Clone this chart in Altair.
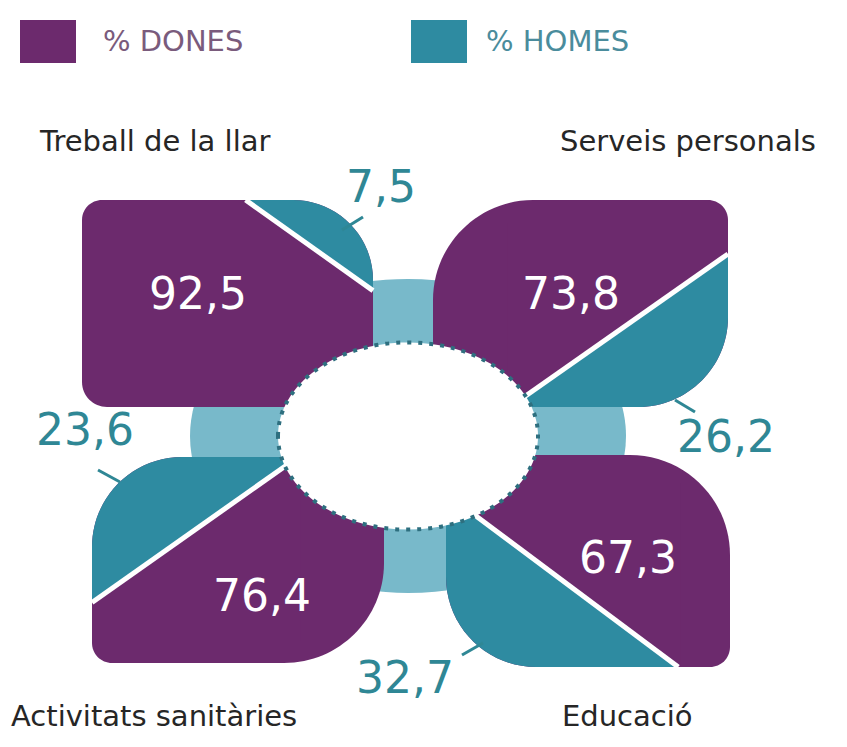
import math
import altair as alt
import pandas as pd

# ---------------- data ----------------
sectors = ["Treball de la llar", "Serveis personals", "Educació", "Activitats sanitàries"]
dones = [92.5, 73.8, 67.3, 76.4]
homes = [7.5, 26.2, 32.7, 23.6]
groups = ["% DONES", "% HOMES"]

# ---------------- style / layout ----------------
PURPLE = "#6c2a6d"
TEAL = "#2e8ba1"
LIGHT = "#78b9ca"
DOT = "#2e6f7f"
TEAL_TXT = "#2f8795"
TITLE_C = "#262626"
LEG_TXT = ["#7a5b7c", "#4a8c9c"]
FONT = "DejaVu Sans"

W_CH, H_CH = 831, 731
XS = alt.Scale(domain=[8, 8 + W_CH], range=[0, W_CH], nice=False, zero=False)
YS = alt.Scale(domain=[8, 8 + H_CH], range=[0, H_CH], nice=False, zero=False)


def X(f):
    return alt.X(f, type="quantitative", scale=XS, axis=None)


def Y(f):
    return alt.Y(f, type="quantitative", scale=YS, axis=None, stack=None)


# petal boxes (page px): x0, x1, y0, y1 ; corner holding the men's share ; corner radii
PETALS = {
    "Treball de la llar": dict(box=(82, 373, 200, 407), corner="TR", r=dict(TL=20, TR=80, BR=0, BL=25)),
    "Serveis personals": dict(box=(433, 728, 200, 407), corner="BR", r=dict(TL=100, TR=20, BR=90, BL=0)),
    "Educació": dict(box=(446, 730, 455, 667), corner="BL", r=dict(TL=0, TR=100, BR=20, BL=90)),
    "Activitats sanitàries": dict(box=(92, 384, 457, 663), corner="TL", r=dict(TL=90, TR=0, BR=100, BL=20)),
}
DONES_POS = {"Treball de la llar": (198, 296), "Serveis personals": (571, 296),
             "Educació": (628, 560), "Activitats sanitàries": (262, 598)}
HOMES_POS = {"Treball de la llar": (381, 189), "Serveis personals": (726, 439),
             "Educació": (405, 680), "Activitats sanitàries": (85, 432)}
DASH_POS = {"Treball de la llar": (342, 230, 363, 217), "Serveis personals": (675, 400, 695, 412),
            "Educació": (462, 655, 483, 643), "Activitats sanitàries": (98, 470, 120, 482)}
TITLE_POS = {"Treball de la llar": (40, 142), "Serveis personals": (560, 142),
             "Educació": (562, 717), "Activitats sanitàries": (11, 717)}
CENTER = (408, 436)
RING_RX, HOLE_RX = 218, 130
ELLIPSE = "M-1,0A1,0.72,0,1,1,1,0A1,0.72,0,1,1,-1,0Z"
LEG_SQ_X = [(20, 76), (411, 467)]
LEG_SQ_Y = (20, 63)
LEG_TXT_X = [103, 486]
LEG_TXT_Y = 42

# ---------------- geometry tables built from the data ----------------
C = 1 - math.pi / 4
pet_rows, teal_rows, cover_rows, line_rows = [], [], [], []
for s, h in zip(sectors, homes):
    p = PETALS[s]
    x0, x1, y0, y1 = p["box"]
    r = p["r"]
    cn = p["corner"]
    W, H = x1 - x0, y1 - y0
    rb = r[cn]
    area = W * H - C * sum(v * v for v in r.values())
    k = math.sqrt(2 * (h / 100 * area + C * rb * rb) / (W * H))
    kw, kh = k * W, k * H
    wt = min(W - 4, max(kw, 2 * rb + 2))
    ht = min(H - 22, max(kh, 2 * rb + 2))
    right = cn[1] == "R"
    top = cn[0] == "T"
    tx0, tx1 = (x1 - wt, x1) if right else (x0, x0 + wt)
    ty0, ty1 = (y0, y0 + ht) if top else (y1 - ht, y1)
    hx = x1 - kw if right else x0 + kw
    hy = y0 if top else y1
    vx = x1 if right else x0
    vy = y0 + kh if top else y1 - kh
    pet_rows.append(dict(sector=s, x0=x0, x1=x1, y0=y0, y1=y1))
    teal_rows.append(dict(sector=s, x0=tx0, x1=tx1, y0=ty0, y1=ty1))
    line_rows.append(dict(sector=s, lx0=hx, ly0=hy, lx1=vx, ly1=vy))
    cx0 = tx0 - 2 if right else tx0
    cx1 = tx1 if right else tx1 + 2
    cy0 = ty0 if top else ty0 - 2
    cy1 = ty1 + 2 if top else ty1
    if cn == "TR":
        pts = [(cx0, cy0, cy1), (hx, cy0, cy1), (x1, vy, cy1)]
    elif cn == "BR":
        pts = [(cx0, cy0, cy1), (hx, cy0, cy1), (x1, cy0, vy)]
    elif cn == "BL":
        pts = [(x0, cy0, vy), (hx, cy0, cy1), (cx1, cy0, cy1)]
    else:
        pts = [(x0, vy, cy1), (hx, cy0, cy1), (cx1, cy0, cy1)]
    for i, (px, ya, yb) in enumerate(pts):
        cover_rows.append(dict(sector=s, idx=i, px=px, ya=ya, yb=yb))

pet_df = pd.DataFrame(pet_rows)
teal_df = pd.DataFrame(teal_rows)
cover_df = pd.DataFrame(cover_rows)
line_df = pd.DataFrame(line_rows)

dlab_df = pd.DataFrame({"sector": sectors, "v": dones,
                        "x": [DONES_POS[s][0] for s in sectors], "y": [DONES_POS[s][1] for s in sectors]})
hlab_df = pd.DataFrame({"sector": sectors, "v": homes,
                        "x": [HOMES_POS[s][0] for s in sectors], "y": [HOMES_POS[s][1] for s in sectors]})
dash_df = pd.DataFrame({"sector": sectors,
                        "x0": [DASH_POS[s][0] for s in sectors], "y0": [DASH_POS[s][1] for s in sectors],
                        "x1": [DASH_POS[s][2] for s in sectors], "y1": [DASH_POS[s][3] for s in sectors]})
title_df = pd.DataFrame({"sector": sectors,
                         "x": [TITLE_POS[s][0] for s in sectors], "y": [TITLE_POS[s][1] for s in sectors]})
center_df = pd.DataFrame({"cx": [CENTER[0]], "cy": [CENTER[1]]})
leg_df = pd.DataFrame({"group": groups,
                       "x0": [a for a, b in LEG_SQ_X], "x1": [b for a, b in LEG_SQ_X],
                       "y0": [LEG_SQ_Y[0]] * 2, "y1": [LEG_SQ_Y[1]] * 2,
                       "tx": LEG_TXT_X, "ty": [LEG_TXT_Y] * 2})

FMT = "replace(format(datum.v, '.1f'), '.', ',')"

layers = []
# light blue ring (under the petals)
layers.append(alt.Chart(center_df).mark_point(shape=ELLIPSE, size=(2 * RING_RX) ** 2, filled=True,
                                              fill=LIGHT, opacity=1, strokeWidth=0)
              .encode(x=X("cx"), y=Y("cy")))
# petal silhouettes (women share colour)
for s in sectors:
    r = PETALS[s]["r"]
    layers.append(alt.Chart(pet_df[pet_df.sector == s]).mark_rect(
        color=PURPLE, cornerRadiusTopLeft=r["TL"], cornerRadiusTopRight=r["TR"],
        cornerRadiusBottomRight=r["BR"], cornerRadiusBottomLeft=r["BL"])
        .encode(x=X("x0"), x2="x1", y=Y("y0"), y2="y1"))
# men's share boxes (rounded at the petal corner)
for s in sectors:
    cn = PETALS[s]["corner"]
    rb = PETALS[s]["r"][cn]
    kw = dict(cornerRadiusTopLeft=0, cornerRadiusTopRight=0, cornerRadiusBottomRight=0, cornerRadiusBottomLeft=0)
    kw[{"TL": "cornerRadiusTopLeft", "TR": "cornerRadiusTopRight",
        "BR": "cornerRadiusBottomRight", "BL": "cornerRadiusBottomLeft"}[cn]] = rb
    layers.append(alt.Chart(teal_df[teal_df.sector == s]).mark_rect(color=TEAL, **kw)
                  .encode(x=X("x0"), x2="x1", y=Y("y0"), y2="y1"))
# women's share covering the rest of each box
for s in sectors:
    layers.append(alt.Chart(cover_df[cover_df.sector == s]).mark_area(
        color=PURPLE, fill=PURPLE, interpolate="linear", opacity=1, orient="vertical")
        .encode(x=X("px"), y=Y("ya"), y2=alt.Y2("yb")))
# white dividing lines
layers.append(alt.Chart(line_df).mark_rule(color="white", strokeWidth=5)
              .encode(x=X("lx0"), y=Y("ly0"), x2="lx1", y2="ly1"))
# central hole with dotted border
layers.append(alt.Chart(center_df).mark_point(shape=ELLIPSE, size=(2 * HOLE_RX) ** 2, filled=True,
                                              fill="white", opacity=1, stroke=DOT, strokeWidth=4,
                                              strokeDash=[4, 7])
              .encode(x=X("cx"), y=Y("cy")))
# values
layers.append(alt.Chart(dlab_df).transform_calculate(txt=FMT)
              .mark_text(color="white", fontSize=44, font=FONT, baseline="middle")
              .encode(x=X("x"), y=Y("y"), text="txt:N"))
layers.append(alt.Chart(hlab_df).transform_calculate(txt=FMT)
              .mark_text(color=TEAL_TXT, fontSize=44, font=FONT, baseline="middle")
              .encode(x=X("x"), y=Y("y"), text="txt:N"))
layers.append(alt.Chart(dash_df).mark_rule(color=TEAL_TXT, strokeWidth=3)
              .encode(x=X("x0"), y=Y("y0"), x2="x1", y2="y1"))
# sector titles
layers.append(alt.Chart(title_df).mark_text(color=TITLE_C, fontSize=29, font=FONT, align="left",
                                            baseline="middle")
              .encode(x=X("x"), y=Y("y"), text="sector:N"))
# legend
layers.append(alt.Chart(leg_df).mark_rect()
              .encode(x=X("x0"), x2="x1", y=Y("y0"), y2="y1",
                      color=alt.Color("group:N", scale=alt.Scale(domain=groups, range=[PURPLE, TEAL]),
                                      legend=None)))
for g, c in zip(groups, LEG_TXT):
    layers.append(alt.Chart(leg_df[leg_df.group == g]).mark_text(color=c, fontSize=29, font=FONT,
                                                                 align="left", baseline="middle")
                  .encode(x=X("tx"), y=Y("ty"), text="group:N"))

chart = alt.layer(*layers).properties(
    width=W_CH, height=H_CH, padding=0, autosize=alt.AutoSizeParams(type="none")
).configure(background="white").configure_view(stroke=None, strokeWidth=0)

chart.save("out.html", embed_options={"renderer": "svg", "actions": False})
